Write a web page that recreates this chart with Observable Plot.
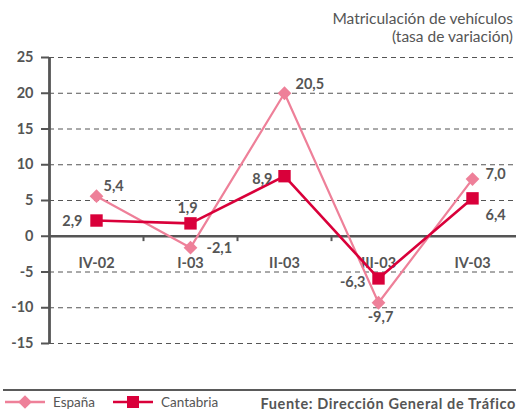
<!DOCTYPE html>
<html><head><meta charset="utf-8">
<script src="https://cdn.jsdelivr.net/npm/d3@7"></script>
<script src="https://cdn.jsdelivr.net/npm/@observablehq/plot@0.6"></script>
<style>
body{margin:0;background:#fff;font-family:Lato,"Open Sans",sans-serif;width:516px;height:412px;overflow:hidden;position:relative;color:#555}
#title{position:absolute;top:9px;right:3px;text-align:right;font-size:15.5px;line-height:18px;color:#555}
#chart{position:absolute;top:48px;left:0}
#footer{position:absolute;top:389px;left:3px;width:513px;border-top:2px solid #5a5a5a;height:22px}
#footer .row{position:relative;height:22px;font-size:13.5px}
#footer .item{position:absolute;top:3px;display:flex;align-items:center}
#footer .item svg{margin-right:8px}
#src{position:absolute;right:0;top:4px;font-weight:bold;font-size:14.5px;letter-spacing:0.6px;color:#555;white-space:nowrap}
</style></head><body>
<div id="title">Matriculación de vehículos<br>(tasa de variación)</div>
<div id="chart"></div>
<div id="footer"><div class="row">
  <div class="item" id="lg1" style="left:2px"></div>
  <div class="item" id="lg2" style="left:110px"></div>
  <div id="src">Fuente: Dirección General de Tráfico</div>
</div></div>
<script>
const categories = ["IV-02","I-03","II-03","III-03","IV-03"];
const espana = [5.6, -1.6, 20.0, -9.3, 8.0];
const cantabria = [2.2, 1.8, 8.4, -5.9, 5.3];
const espanaLabels = ["5,4","-2,1","20,5","-9,7","7,0"];
const cantabriaLabels = ["2,9","1,9","8,9","-6,3","6,4"];
const yTicks = [-15,-10,-5,0,5,10,15,20,25];
const seriesNames = ["España","Cantabria"];

const colEsp = "#ee8099", colCan = "#d9003a", ink = "#555";
const fs = 14.5;
// label placement (style, not data)
const espPos = [
  {dx:7, dy:-10, a:"start"}, {dx:16, dy:1, a:"start"}, {dx:11, dy:-9, a:"start"},
  {dx:2, dy:15, a:"middle"}, {dx:13, dy:-5, a:"start"}];
const canPos = [
  {dx:-14, dy:1, a:"end"}, {dx:-3, dy:-15, a:"middle"}, {dx:-12, dy:3, a:"end"},
  {dx:-13, dy:4, a:"end"}, {dx:13, dy:17, a:"start"}];

const esp = categories.map((c,i)=>({cat:c, v:espana[i], lab:espanaLabels[i], ...espPos[i]}));
const can = categories.map((c,i)=>({cat:c, v:cantabria[i], lab:cantabriaLabels[i], ...canPos[i]}));

const x0 = 49, x1 = 519;
const step = (x1 - x0) / categories.length;

function labelMarks(data) {
  return data.map(d => Plot.text([d], {x:"cat", y:"v", text:"lab", textAnchor:d.a, dx:d.dx, dy:d.dy,
    fill: ink, fontWeight:"bold", fontSize: fs}));
}

const chart = Plot.plot({
  width: 516, height: 312,
  marginTop: 9, marginBottom: 17, marginLeft: 49, marginRight: 0,
  style: {fontFamily: "Lato, 'Open Sans', sans-serif", background: "transparent", overflow: "visible"},
  x: {type:"point", domain: categories, range:[x0, x1], padding: 0.5, axis: null},
  y: {domain:[-15,25], axis: null},
  marks: [
    Plot.ruleY(yTicks.filter(d=>d!==0), {stroke: ink, strokeWidth:1, strokeDasharray:"5,4", strokeOpacity:1}),
    Plot.axisY(yTicks, {label: null, tickSize: 8, tickPadding: 8, tickFormat: d=>String(d), fontWeight:"bold", fontSize: fs,
      stroke: ink, strokeWidth: 2, fill: ink, strokeOpacity:1}),
    Plot.ruleX([categories[0]], {dx: -step/2, y1: yTicks[0], y2: yTicks[yTicks.length-1], stroke: ink, strokeWidth: 2.8}),
    Plot.ruleY([0], {stroke: ink, strokeWidth: 2.5}),
    Plot.ruleX(categories.slice(1), {dx: -step/2, y1: 0, y2: -0.75, stroke: ink, strokeWidth: 2}),
    Plot.text(categories, {x: d=>d, y: ()=>0, dy: 27, text: d=>d, fill: ink, fontWeight:"bold", fontSize: fs}),
    Plot.line(esp, {x:"cat", y:"v", stroke: colEsp, strokeWidth: 2.2}),
    Plot.line(can, {x:"cat", y:"v", stroke: colCan, strokeWidth: 2.6}),
    Plot.dot(esp, {x:"cat", y:"v", symbol:"diamond2", r: 6.2, fill: colEsp, stroke: null}),
    Plot.dot(can, {x:"cat", y:"v", symbol:"square", r: 7, fill: colCan, stroke: null}),
    ...labelMarks(esp),
    ...labelMarks(can)
  ]
});
document.getElementById("chart").append(chart);

function swatch(color, shape) {
  const w = 40, h = 16;
  const s = d3.create("svg").attr("width", w).attr("height", h);
  s.append("line").attr("x1",0).attr("x2",w).attr("y1",h/2).attr("y2",h/2).attr("stroke",color).attr("stroke-width",2.5);
  if (shape === "diamond") s.append("path").attr("d", d3.symbol(d3.symbolDiamond2, 120)()).attr("transform",`translate(${w/2},${h/2})`).attr("fill",color);
  else s.append("rect").attr("x",w/2-6).attr("y",h/2-6).attr("width",12).attr("height",12).attr("fill",color);
  return s.node();
}
const lg1 = document.getElementById("lg1"), lg2 = document.getElementById("lg2");
lg1.append(swatch(colEsp,"diamond")); lg1.append(document.createTextNode(seriesNames[0]));
lg2.append(swatch(colCan,"square")); lg2.append(document.createTextNode(seriesNames[1]));
</script>
</body></html>
